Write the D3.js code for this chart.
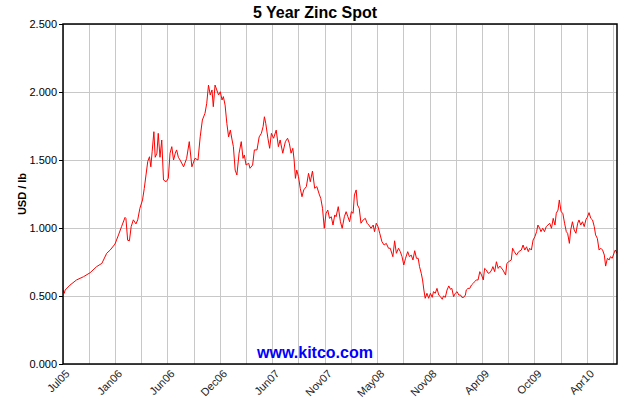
<!DOCTYPE html>
<html>
<head>
<meta charset="utf-8">
<script src="https://cdn.jsdelivr.net/npm/d3@7"></script>
<style>
  body { margin: 0; background: #fff; }
  svg { display: block; font-family: "Liberation Sans", Arial, sans-serif; }
</style>
</head>
<body>
<div id="chart"></div>
<script>
// Trading-day index since Jul 2005 (gridline every 60 days)
const day = [
  0, 3, 5, 16, 31, 47, 62, 77, 89, 100, 108, 119, 127, 134, 142, 144, 148, 152, 156, 161,
  167, 171, 176, 182, 186, 190, 194, 198, 201, 204, 208, 211, 215, 218, 222, 226, 230, 236, 241, 245,
  249, 253, 257, 260, 264, 268, 276, 283, 289, 295, 302, 309, 314, 319, 325, 329, 333, 337, 341, 344,
  348, 352, 356, 360, 364, 367, 371, 375, 379, 383, 387, 390, 394, 398, 403, 408, 412, 415, 419, 425,
  428, 434, 438, 444, 449, 454, 458, 461, 464, 469, 473, 477, 482, 488, 493, 497, 503, 509, 514, 518,
  522, 526, 529, 532, 535, 539, 543, 547, 551, 557, 562, 566, 571, 576, 581, 587, 590, 594, 598, 602,
  606, 610, 614, 618, 622, 625, 630, 635, 639, 644, 648, 652, 656, 660, 664, 667, 671, 674, 678, 682,
  687, 692, 696, 700, 705, 710, 713, 717, 721, 725, 730, 735, 740, 745, 749, 755, 759, 763, 768, 772,
  776, 780, 784, 789, 793, 797, 801, 805, 809, 813, 816, 820, 823, 826, 829, 833, 837, 841, 845, 848,
  852, 856, 860, 864, 868, 871, 875, 879, 883, 887, 890, 894, 898, 902, 906, 910, 913, 917, 921, 923,
  927, 931, 935, 939, 942, 946, 950, 954, 958, 962, 965, 969, 973, 977, 981, 984, 988, 992, 996, 1000,
  1007, 1013, 1016, 1020, 1026, 1029, 1033, 1038, 1043, 1049, 1053, 1057, 1061, 1065, 1068, 1072, 1076, 1080, 1084, 1087,
  1091, 1094, 1098, 1102, 1106, 1110, 1114, 1118, 1122, 1126, 1129, 1133, 1136, 1140, 1144, 1148, 1152, 1155, 1159, 1162,
  1166, 1170, 1174, 1178, 1181, 1185, 1189, 1193, 1197, 1200, 1204, 1208, 1212, 1216, 1219, 1223, 1227, 1231, 1235, 1239,
  1242, 1246, 1250, 1253, 1257, 1261, 1264, 1268
];

// Zinc spot, USD per lb
const usd = [
  0.545, 0.520, 0.544, 0.580, 0.618, 0.642, 0.671, 0.716, 0.740, 0.814, 0.838, 0.882, 0.949, 1.010, 1.078, 1.070, 0.910, 0.906, 1.010, 1.060,
  1.030, 1.060, 1.145, 1.206, 1.290, 1.390, 1.490, 1.524, 1.450, 1.560, 1.708, 1.520, 1.550, 1.696, 1.520, 1.647, 1.353, 1.340, 1.365, 1.550,
  1.598, 1.500, 1.550, 1.574, 1.520, 1.500, 1.450, 1.512, 1.635, 1.450, 1.512, 1.500, 1.670, 1.794, 1.843, 1.917, 2.051, 1.978, 2.015, 1.892,
  2.051, 2.015, 1.978, 2.002, 1.941, 1.966, 1.904, 1.770, 1.670, 1.720, 1.647, 1.598, 1.426, 1.390, 1.550, 1.635, 1.512, 1.537, 1.463, 1.476,
  1.439, 1.463, 1.574, 1.574, 1.670, 1.696, 1.745, 1.818, 1.770, 1.660, 1.586, 1.696, 1.660, 1.720, 1.598, 1.647, 1.550, 1.635, 1.660, 1.623,
  1.550, 1.586, 1.500, 1.365, 1.426, 1.377, 1.292, 1.230, 1.280, 1.304, 1.402, 1.340, 1.419, 1.292, 1.304, 1.243, 1.218, 1.145, 0.998, 1.108,
  1.132, 1.071, 1.083, 1.022, 1.096, 1.083, 1.157, 1.046, 0.998, 1.083, 1.120, 1.083, 1.046, 1.120, 1.108, 1.243, 1.280, 1.169, 1.145, 1.035,
  1.059, 1.071, 1.035, 1.022, 0.998, 1.022, 0.973, 1.035, 1.010, 0.961, 0.899, 0.875, 0.887, 0.851, 0.851, 0.789, 0.906, 0.814, 0.851, 0.826,
  0.789, 0.728, 0.777, 0.826, 0.789, 0.801, 0.765, 0.833, 0.777, 0.777, 0.716, 0.667, 0.618, 0.544, 0.483, 0.520, 0.483, 0.520, 0.490, 0.532,
  0.520, 0.556, 0.507, 0.495, 0.476, 0.500, 0.490, 0.544, 0.574, 0.549, 0.556, 0.495, 0.520, 0.532, 0.507, 0.507, 0.490, 0.490, 0.507, 0.544,
  0.556, 0.556, 0.581, 0.593, 0.605, 0.618, 0.618, 0.679, 0.654, 0.618, 0.703, 0.691, 0.667, 0.671, 0.691, 0.716, 0.679, 0.752, 0.703, 0.720,
  0.691, 0.654, 0.740, 0.752, 0.765, 0.851, 0.826, 0.801, 0.826, 0.838, 0.875, 0.838, 0.862, 0.826, 0.851, 0.838, 0.912, 0.936, 0.973, 1.022,
  0.998, 0.973, 0.998, 0.973, 1.010, 1.022, 1.035, 0.998, 1.071, 1.022, 1.108, 1.132, 1.206, 1.120, 1.108, 1.035, 0.973, 0.961, 0.887, 0.985,
  1.046, 0.985, 0.961, 1.035, 1.059, 1.022, 1.046, 1.010, 1.063, 1.078, 1.113, 1.071, 1.059, 1.010, 0.949, 0.924, 0.838, 0.851, 0.838, 0.801,
  0.720, 0.777, 0.765, 0.789, 0.777, 0.814, 0.838, 0.814
];

// Axis settings
const yTicks = [0, 0.5, 1.0, 1.5, 2.0, 2.5];
const xTickLabels = ["Jul05", "Jan06", "Jun06", "Dec06", "Jun07", "Nov07", "May08", "Nov08", "Apr09", "Oct09", "Apr10"];
const gridStep = 60;      // trading days between vertical gridlines
const lastDay = 1268;

const width = 630, height = 400;
const margin = { top: 24, right: 13, bottom: 36, left: 63 };
const innerW = width - margin.left - margin.right;
const innerH = height - margin.top - margin.bottom;

const svg = d3.select("#chart").append("svg")
    .attr("width", width)
    .attr("height", height);

const x = d3.scaleLinear().domain([0, lastDay]).range([0, innerW]);
const y = d3.scaleLinear().domain([0, 2.5]).range([innerH, 0]);

const g = svg.append("g").attr("transform", `translate(${margin.left},${margin.top})`);

// Gridlines
const gridDays = d3.range(0, lastDay + 1, gridStep);
g.selectAll(".vgrid").data(gridDays).enter().append("line")
    .attr("x1", d => x(d)).attr("x2", d => x(d))
    .attr("y1", 0).attr("y2", innerH)
    .attr("stroke", "#c8c8c8").attr("stroke-width", 1)
    .attr("shape-rendering", "crispEdges");

g.selectAll(".hgrid").data(yTicks).enter().append("line")
    .attr("x1", 0).attr("x2", innerW)
    .attr("y1", d => y(d)).attr("y2", d => y(d))
    .attr("stroke", "#c8c8c8").attr("stroke-width", 1)
    .attr("shape-rendering", "crispEdges");

// Price line, clipped to the plot
svg.append("clipPath").attr("id", "plotclip")
  .append("rect").attr("width", innerW).attr("height", innerH);

const pts = day.map((d, i) => [d, usd[i]]);
g.append("path")
    .datum(pts)
    .attr("clip-path", "url(#plotclip)")
    .attr("fill", "none")
    .attr("stroke", "#ff0000")
    .attr("stroke-width", 1)
    .attr("stroke-linejoin", "round")
    .attr("d", d3.line().x(d => x(d[0])).y(d => y(d[1])));

// Frame
g.append("rect")
    .attr("width", innerW).attr("height", innerH)
    .attr("fill", "none").attr("stroke", "#000").attr("stroke-width", 1.5);

// Y axis
const yAxis = g.append("g")
    .call(d3.axisLeft(y).tickValues(yTicks).tickFormat(d3.format(".3f")).tickSize(4).tickPadding(2));
yAxis.select(".domain").remove();
yAxis.selectAll("line").attr("stroke", "#000");
yAxis.selectAll("text").attr("font-size", 11).attr("fill", "#000")
    .attr("font-family", "Liberation Sans, Arial, sans-serif");

// X axis labels every other gridline
const labelDays = xTickLabels.map((_, i) => i * gridStep * 2);
g.selectAll(".xlab").data(labelDays).enter().append("text")
    .attr("transform", d => `translate(${x(d) + 2},${innerH + 5}) rotate(-45)`)
    .attr("text-anchor", "end")
    .attr("dy", "0.7em")
    .attr("font-size", 11)
    .attr("fill", "#222")
    .text((d, i) => xTickLabels[i]);

// Title
svg.append("text")
    .attr("x", 315).attr("y", 18)
    .attr("text-anchor", "middle")
    .attr("font-size", 16).attr("font-weight", "bold")
    .text("5 Year Zinc Spot");

// Y axis title
svg.append("text")
    .attr("transform", `translate(26,${margin.top + innerH / 2}) rotate(-90)`)
    .attr("text-anchor", "middle")
    .attr("font-size", 11).attr("font-weight", "bold")
    .text("USD / lb");

// Watermark
svg.append("text")
    .attr("x", 315).attr("y", 358)
    .attr("text-anchor", "middle")
    .attr("font-size", 16).attr("font-weight", "bold")
    .attr("fill", "#0000ff")
    .text("www.kitco.com");
</script>
</body>
</html>
